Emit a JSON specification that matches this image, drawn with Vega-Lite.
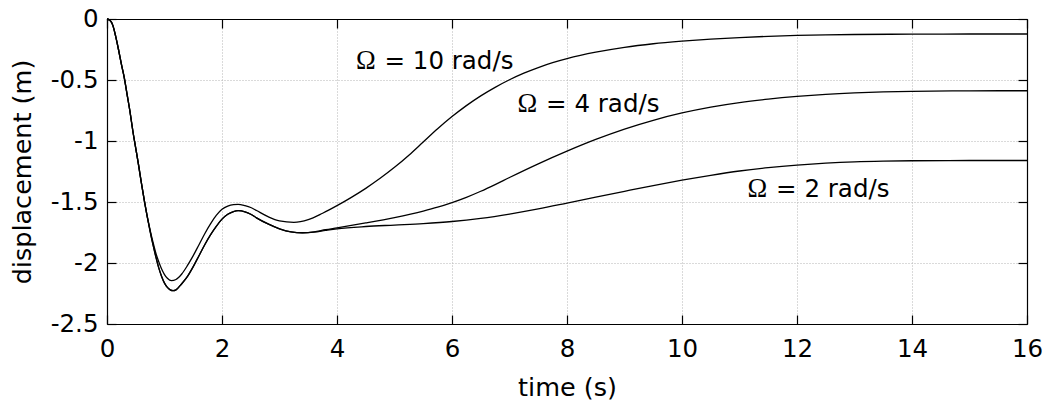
{
  "$schema": "https://vega.github.io/schema/vega-lite/v6.json",
  "autosize": "none",
  "padding": {"left": 107, "top": 19, "right": 24, "bottom": 81},
  "width": 920,
  "height": 305,
  "background": "white",
  "config": {
    "view": {"stroke": null},
    "axis": {
      "labelFont": "DejaVu Sans",
      "labelFontSize": 24.5,
      "labelColor": "#000",
      "titleFont": "DejaVu Sans",
      "titleFontSize": 25.5,
      "titleFontWeight": "normal",
      "titleColor": "#000",
      "domainColor": "#000",
      "domainWidth": 1.2,
      "tickColor": "#000",
      "tickWidth": 1.2,
      "tickSize": -9,
      "gridColor": "#b4b4b4",
      "gridDash": [1, 2],
      "gridWidth": 1,
      "labelFlush": false,
      "labelOverlap": false
    }
  },
  "data": {
    "values": [
      {"t": 0, "d": 0, "omega": 10}, {"t": 0.05, "d": -0.01, "omega": 10}, {"t": 0.1, "d": -0.05, "omega": 10},
      {"t": 0.15, "d": -0.14, "omega": 10}, {"t": 0.2, "d": -0.25, "omega": 10}, {"t": 0.25, "d": -0.37, "omega": 10},
      {"t": 0.3, "d": -0.48, "omega": 10}, {"t": 0.35, "d": -0.62, "omega": 10}, {"t": 0.4, "d": -0.76, "omega": 10},
      {"t": 0.45, "d": -0.92, "omega": 10}, {"t": 0.5, "d": -1.06, "omega": 10}, {"t": 0.55, "d": -1.2, "omega": 10},
      {"t": 0.6, "d": -1.35, "omega": 10}, {"t": 0.65, "d": -1.49, "omega": 10}, {"t": 0.7, "d": -1.62, "omega": 10},
      {"t": 0.75, "d": -1.73, "omega": 10}, {"t": 0.8, "d": -1.83, "omega": 10}, {"t": 0.85, "d": -1.92, "omega": 10},
      {"t": 0.9, "d": -1.99, "omega": 10}, {"t": 0.95, "d": -2.05, "omega": 10}, {"t": 1.0, "d": -2.095, "omega": 10},
      {"t": 1.05, "d": -2.125, "omega": 10}, {"t": 1.12, "d": -2.145, "omega": 10}, {"t": 1.2, "d": -2.135, "omega": 10},
      {"t": 1.3, "d": -2.09, "omega": 10}, {"t": 1.4, "d": -2.02, "omega": 10}, {"t": 1.5, "d": -1.94, "omega": 10},
      {"t": 1.6, "d": -1.85, "omega": 10}, {"t": 1.7, "d": -1.76, "omega": 10}, {"t": 1.8, "d": -1.68, "omega": 10},
      {"t": 1.9, "d": -1.61, "omega": 10}, {"t": 2.0, "d": -1.56, "omega": 10}, {"t": 2.1, "d": -1.533, "omega": 10},
      {"t": 2.2, "d": -1.521, "omega": 10}, {"t": 2.28, "d": -1.519, "omega": 10}, {"t": 2.4, "d": -1.53, "omega": 10},
      {"t": 2.5, "d": -1.545, "omega": 10}, {"t": 2.6, "d": -1.57, "omega": 10}, {"t": 2.8, "d": -1.62, "omega": 10},
      {"t": 3.0, "d": -1.655, "omega": 10}, {"t": 3.25, "d": -1.667, "omega": 10}, {"t": 3.5, "d": -1.645, "omega": 10},
      {"t": 3.75, "d": -1.592, "omega": 10}, {"t": 4.0, "d": -1.53, "omega": 10}, {"t": 4.25, "d": -1.462, "omega": 10},
      {"t": 4.5, "d": -1.388, "omega": 10}, {"t": 4.75, "d": -1.306, "omega": 10}, {"t": 5.0, "d": -1.216, "omega": 10},
      {"t": 5.25, "d": -1.116, "omega": 10}, {"t": 5.5, "d": -1.008, "omega": 10}, {"t": 5.75, "d": -0.9, "omega": 10},
      {"t": 6.0, "d": -0.8, "omega": 10}, {"t": 6.25, "d": -0.71, "omega": 10}, {"t": 6.5, "d": -0.63, "omega": 10},
      {"t": 6.75, "d": -0.56, "omega": 10}, {"t": 7.0, "d": -0.498, "omega": 10}, {"t": 7.25, "d": -0.444, "omega": 10},
      {"t": 7.5, "d": -0.398, "omega": 10}, {"t": 7.75, "d": -0.358, "omega": 10}, {"t": 8.0, "d": -0.325, "omega": 10},
      {"t": 8.5, "d": -0.272, "omega": 10}, {"t": 9.0, "d": -0.232, "omega": 10}, {"t": 9.5, "d": -0.203, "omega": 10},
      {"t": 10.0, "d": -0.182, "omega": 10}, {"t": 10.5, "d": -0.165, "omega": 10}, {"t": 11.0, "d": -0.152, "omega": 10},
      {"t": 11.5, "d": -0.142, "omega": 10}, {"t": 12.0, "d": -0.135, "omega": 10}, {"t": 12.5, "d": -0.13, "omega": 10},
      {"t": 13.0, "d": -0.127, "omega": 10}, {"t": 14.0, "d": -0.124, "omega": 10}, {"t": 15.0, "d": -0.123, "omega": 10},
      {"t": 16.0, "d": -0.123, "omega": 10},

      {"t": 0, "d": 0, "omega": 4}, {"t": 0.05, "d": -0.01, "omega": 4}, {"t": 0.1, "d": -0.05, "omega": 4},
      {"t": 0.15, "d": -0.14, "omega": 4}, {"t": 0.2, "d": -0.25, "omega": 4}, {"t": 0.25, "d": -0.37, "omega": 4},
      {"t": 0.3, "d": -0.48, "omega": 4}, {"t": 0.35, "d": -0.62, "omega": 4}, {"t": 0.4, "d": -0.76, "omega": 4},
      {"t": 0.45, "d": -0.92, "omega": 4}, {"t": 0.5, "d": -1.06, "omega": 4}, {"t": 0.55, "d": -1.2, "omega": 4},
      {"t": 0.6, "d": -1.35, "omega": 4}, {"t": 0.65, "d": -1.49, "omega": 4}, {"t": 0.7, "d": -1.62, "omega": 4},
      {"t": 0.75, "d": -1.74, "omega": 4}, {"t": 0.8, "d": -1.85, "omega": 4}, {"t": 0.85, "d": -1.95, "omega": 4},
      {"t": 0.9, "d": -2.04, "omega": 4}, {"t": 0.95, "d": -2.11, "omega": 4}, {"t": 1.0, "d": -2.165, "omega": 4},
      {"t": 1.05, "d": -2.2, "omega": 4}, {"t": 1.1, "d": -2.22, "omega": 4}, {"t": 1.15, "d": -2.227, "omega": 4},
      {"t": 1.2, "d": -2.22, "omega": 4}, {"t": 1.3, "d": -2.17, "omega": 4}, {"t": 1.4, "d": -2.11, "omega": 4},
      {"t": 1.5, "d": -2.03, "omega": 4}, {"t": 1.6, "d": -1.94, "omega": 4}, {"t": 1.7, "d": -1.85, "omega": 4},
      {"t": 1.8, "d": -1.77, "omega": 4}, {"t": 1.9, "d": -1.7, "omega": 4}, {"t": 2.0, "d": -1.64, "omega": 4},
      {"t": 2.1, "d": -1.6, "omega": 4}, {"t": 2.2, "d": -1.578, "omega": 4}, {"t": 2.28, "d": -1.571, "omega": 4},
      {"t": 2.4, "d": -1.58, "omega": 4}, {"t": 2.5, "d": -1.6, "omega": 4}, {"t": 2.6, "d": -1.63, "omega": 4},
      {"t": 2.8, "d": -1.68, "omega": 4}, {"t": 3.0, "d": -1.72, "omega": 4}, {"t": 3.2, "d": -1.745, "omega": 4},
      {"t": 3.4, "d": -1.752, "omega": 4}, {"t": 3.6, "d": -1.745, "omega": 4}, {"t": 3.8, "d": -1.727, "omega": 4},
      {"t": 4.0, "d": -1.712, "omega": 4}, {"t": 4.5, "d": -1.672, "omega": 4}, {"t": 5.0, "d": -1.628, "omega": 4},
      {"t": 5.5, "d": -1.575, "omega": 4}, {"t": 5.75, "d": -1.543, "omega": 4}, {"t": 6.0, "d": -1.505, "omega": 4},
      {"t": 6.25, "d": -1.462, "omega": 4}, {"t": 6.5, "d": -1.412, "omega": 4}, {"t": 6.75, "d": -1.357, "omega": 4},
      {"t": 7.0, "d": -1.299, "omega": 4}, {"t": 7.5, "d": -1.187, "omega": 4}, {"t": 8.0, "d": -1.083, "omega": 4},
      {"t": 8.5, "d": -0.987, "omega": 4}, {"t": 9.0, "d": -0.902, "omega": 4}, {"t": 9.5, "d": -0.83, "omega": 4},
      {"t": 10.0, "d": -0.77, "omega": 4}, {"t": 10.5, "d": -0.722, "omega": 4}, {"t": 11.0, "d": -0.685, "omega": 4},
      {"t": 11.5, "d": -0.657, "omega": 4}, {"t": 12.0, "d": -0.635, "omega": 4}, {"t": 12.5, "d": -0.618, "omega": 4},
      {"t": 13.0, "d": -0.606, "omega": 4}, {"t": 13.5, "d": -0.598, "omega": 4}, {"t": 14.0, "d": -0.593, "omega": 4},
      {"t": 15.0, "d": -0.589, "omega": 4}, {"t": 16.0, "d": -0.588, "omega": 4},

      {"t": 0, "d": 0, "omega": 2}, {"t": 0.05, "d": -0.01, "omega": 2}, {"t": 0.1, "d": -0.05, "omega": 2},
      {"t": 0.15, "d": -0.14, "omega": 2}, {"t": 0.2, "d": -0.25, "omega": 2}, {"t": 0.25, "d": -0.37, "omega": 2},
      {"t": 0.3, "d": -0.48, "omega": 2}, {"t": 0.35, "d": -0.62, "omega": 2}, {"t": 0.4, "d": -0.76, "omega": 2},
      {"t": 0.45, "d": -0.92, "omega": 2}, {"t": 0.5, "d": -1.06, "omega": 2}, {"t": 0.55, "d": -1.2, "omega": 2},
      {"t": 0.6, "d": -1.35, "omega": 2}, {"t": 0.65, "d": -1.49, "omega": 2}, {"t": 0.7, "d": -1.62, "omega": 2},
      {"t": 0.75, "d": -1.74, "omega": 2}, {"t": 0.8, "d": -1.85, "omega": 2}, {"t": 0.85, "d": -1.95, "omega": 2},
      {"t": 0.9, "d": -2.04, "omega": 2}, {"t": 0.95, "d": -2.11, "omega": 2}, {"t": 1.0, "d": -2.165, "omega": 2},
      {"t": 1.05, "d": -2.2, "omega": 2}, {"t": 1.1, "d": -2.22, "omega": 2}, {"t": 1.15, "d": -2.227, "omega": 2},
      {"t": 1.2, "d": -2.22, "omega": 2}, {"t": 1.3, "d": -2.17, "omega": 2}, {"t": 1.4, "d": -2.11, "omega": 2},
      {"t": 1.5, "d": -2.03, "omega": 2}, {"t": 1.6, "d": -1.94, "omega": 2}, {"t": 1.7, "d": -1.85, "omega": 2},
      {"t": 1.8, "d": -1.77, "omega": 2}, {"t": 1.9, "d": -1.7, "omega": 2}, {"t": 2.0, "d": -1.64, "omega": 2},
      {"t": 2.1, "d": -1.6, "omega": 2}, {"t": 2.2, "d": -1.578, "omega": 2}, {"t": 2.28, "d": -1.571, "omega": 2},
      {"t": 2.4, "d": -1.58, "omega": 2}, {"t": 2.5, "d": -1.6, "omega": 2}, {"t": 2.6, "d": -1.63, "omega": 2},
      {"t": 2.8, "d": -1.68, "omega": 2}, {"t": 3.0, "d": -1.72, "omega": 2}, {"t": 3.2, "d": -1.745, "omega": 2},
      {"t": 3.4, "d": -1.752, "omega": 2}, {"t": 3.6, "d": -1.747, "omega": 2}, {"t": 3.8, "d": -1.733, "omega": 2},
      {"t": 4.0, "d": -1.72, "omega": 2}, {"t": 4.5, "d": -1.701, "omega": 2}, {"t": 5.0, "d": -1.689, "omega": 2},
      {"t": 5.5, "d": -1.677, "omega": 2}, {"t": 6.0, "d": -1.66, "omega": 2}, {"t": 6.5, "d": -1.634, "omega": 2},
      {"t": 7.0, "d": -1.599, "omega": 2}, {"t": 7.5, "d": -1.557, "omega": 2}, {"t": 8.0, "d": -1.509, "omega": 2},
      {"t": 8.5, "d": -1.46, "omega": 2}, {"t": 9.0, "d": -1.412, "omega": 2}, {"t": 9.5, "d": -1.365, "omega": 2},
      {"t": 10.0, "d": -1.321, "omega": 2}, {"t": 10.5, "d": -1.281, "omega": 2}, {"t": 11.0, "d": -1.246, "omega": 2},
      {"t": 11.5, "d": -1.219, "omega": 2}, {"t": 12.0, "d": -1.198, "omega": 2}, {"t": 12.5, "d": -1.182, "omega": 2},
      {"t": 13.0, "d": -1.171, "omega": 2}, {"t": 13.5, "d": -1.165, "omega": 2}, {"t": 14.0, "d": -1.162, "omega": 2},
      {"t": 15.0, "d": -1.16, "omega": 2}, {"t": 16.0, "d": -1.16, "omega": 2}
    ]
  },
  "layer": [
    {
      "mark": {"type": "line", "color": "#000", "strokeWidth": 1.3, "interpolate": "monotone"},
      "encoding": {
        "x": {
          "field": "t", "type": "quantitative",
          "scale": {"domain": [0, 16], "nice": false, "zero": false},
          "axis": {
            "orient": "bottom", "title": "time (s)", "values": [0, 2, 4, 6, 8, 10, 12, 14, 16],
            "grid": true, "labelPadding": 22, "titlePadding": 15,
            "labelExpr": "'' + datum.value"
          }
        },
        "y": {
          "field": "d", "type": "quantitative",
          "scale": {"domain": [-2.5, 0], "nice": false, "zero": false},
          "axis": {
            "orient": "left", "title": "displacement (m)", "values": [-2.5, -2, -1.5, -1, -0.5, 0],
            "grid": true, "labelPadding": 18, "titlePadding": 15,
            "labelExpr": "'' + datum.value"
          }
        },
        "detail": {"field": "omega", "type": "nominal"}
      }
    },
    {
      "mark": {"type": "line", "opacity": 0},
      "encoding": {
        "x": {
          "field": "t", "type": "quantitative",
          "scale": {"domain": [0, 16], "nice": false, "zero": false},
          "axis": {"orient": "top", "title": null, "labels": false, "grid": false, "values": [0, 2, 4, 6, 8, 10, 12, 14, 16]}
        },
        "y": {
          "field": "d", "type": "quantitative",
          "scale": {"domain": [-2.5, 0], "nice": false, "zero": false},
          "axis": {"orient": "right", "title": null, "labels": false, "grid": false, "values": [-2.5, -2, -1.5, -1, -0.5, 0]}
        },
        "detail": {"field": "omega", "type": "nominal"}
      }
    },
    {
      "data": {
        "values": [
          {"t": 4.33, "d": -0.412, "rest": "= 10 rad/s"},
          {"t": 7.141, "d": -0.76, "rest": "= 4 rad/s"},
          {"t": 11.141, "d": -1.457, "rest": "= 2 rad/s"}
        ]
      },
      "layer": [
        {
          "mark": {"type": "text", "text": "Ω", "font": "Liberation Serif", "fontSize": 26.5, "align": "left", "baseline": "alphabetic", "color": "#000"},
          "encoding": {
            "x": {"field": "t", "type": "quantitative", "axis": null},
            "y": {"field": "d", "type": "quantitative", "axis": null}
          }
        },
        {
          "mark": {"type": "text", "font": "DejaVu Sans", "fontSize": 24.5, "align": "left", "baseline": "alphabetic", "dx": 28.5, "color": "#000"},
          "encoding": {
            "x": {"field": "t", "type": "quantitative", "axis": null},
            "y": {"field": "d", "type": "quantitative", "axis": null},
            "text": {"field": "rest", "type": "nominal"}
          }
        }
      ]
    }
  ],
  "resolve": {"axis": {"x": "independent", "y": "independent"}}
}
